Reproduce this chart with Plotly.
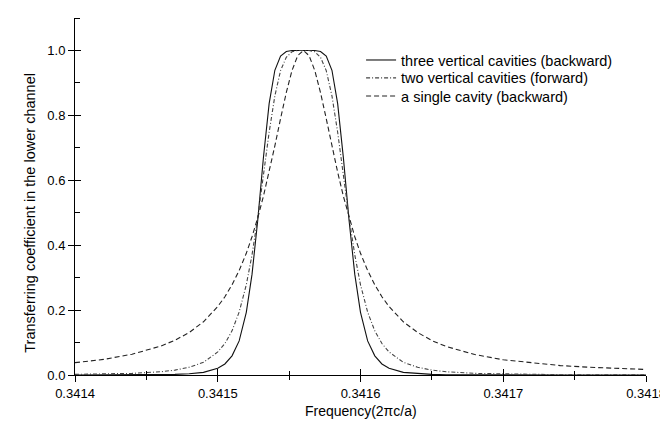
import plotly.graph_objects as go

# frequencies (units of 2*pi*c/a)
freq = [0.341400, 0.341420, 0.341440, 0.341460, 0.341470, 0.341480, 0.341490,
        0.341500, 0.341505, 0.341510, 0.341515, 0.341520, 0.341524, 0.341528,
        0.341532, 0.341536, 0.341540, 0.341544, 0.341548, 0.341552, 0.341556,
        0.341560, 0.341564, 0.341568, 0.341572, 0.341576, 0.341580, 0.341584,
        0.341588, 0.341592, 0.341596, 0.341600, 0.341605, 0.341610, 0.341615,
        0.341620, 0.341630, 0.341640, 0.341650, 0.341660, 0.341680, 0.341700,
        0.341720, 0.341740, 0.341760, 0.341780, 0.341800]

three_cav = [0.000, 0.000, 0.0003, 0.001, 0.002, 0.004, 0.008,
             0.021, 0.034, 0.059, 0.105, 0.193, 0.310, 0.476,
             0.670, 0.836, 0.939, 0.983, 0.997, 1.000, 1.000,
             1.000, 1.000, 1.000, 0.997, 0.983, 0.939, 0.836,
             0.670, 0.476, 0.310, 0.193, 0.105, 0.059, 0.034,
             0.021, 0.008, 0.004, 0.002, 0.001, 0.0003, 0.000,
             0.000, 0.000, 0.000, 0.000, 0.000]

two_cav = [0.002, 0.003, 0.005, 0.010, 0.015, 0.024, 0.039,
           0.071, 0.097, 0.136, 0.194, 0.278, 0.370, 0.484,
           0.616, 0.748, 0.860, 0.938, 0.979, 0.996, 1.000,
           1.000, 1.000, 0.996, 0.979, 0.938, 0.860, 0.748,
           0.616, 0.484, 0.370, 0.278, 0.194, 0.136, 0.097,
           0.071, 0.039, 0.024, 0.015, 0.010, 0.005, 0.003,
           0.002, 0.001, 0.001, 0.0005, 0.0003]

single_cav = [0.038, 0.048, 0.064, 0.089, 0.107, 0.131, 0.164,
              0.211, 0.241, 0.278, 0.322, 0.375, 0.426, 0.484,
              0.551, 0.625, 0.706, 0.790, 0.870, 0.938, 0.984,
              1.000, 0.984, 0.938, 0.870, 0.790, 0.706, 0.625,
              0.551, 0.484, 0.426, 0.375, 0.322, 0.278, 0.241,
              0.211, 0.164, 0.131, 0.106, 0.088, 0.063, 0.047,
              0.037, 0.029, 0.024, 0.020, 0.017]

names = ["three vertical cavities (backward)",
         "two vertical cavities (forward)",
         "a single cavity (backward)"]

FONT = "Liberation Sans, Arial, sans-serif"

fig = go.Figure()
fig.add_trace(go.Scatter(x=freq, y=three_cav, mode="lines", name=names[0],
                         legend="legend",
                         line=dict(color="#111111", width=1.1)))
fig.add_trace(go.Scatter(x=freq, y=two_cav, mode="lines", name=names[1],
                         legend="legend2",
                         line=dict(color="#444444", width=1.1, dash="4px,2px,1px,2px")))
fig.add_trace(go.Scatter(x=freq, y=single_cav, mode="lines", name=names[2],
                         legend="legend3",
                         line=dict(color="#222222", width=1.1, dash="5px,3px")))
# dummy trace so the overlay axes (inside tick halves) get drawn
fig.add_trace(go.Scatter(x=[], y=[], xaxis="x2", yaxis="y2", showlegend=False))

xr = [0.3414, 0.3418]
yr = [0, 1.1001]

# one legend per row so the rows sit as tight as in the original
leg = dict(x=0.501, xanchor="left", yanchor="top",
           bgcolor="rgba(0,0,0,0)", font=dict(size=14.5))

fig.update_layout(
    width=668, height=421,
    margin=dict(l=67, r=21, t=10, b=54),
    paper_bgcolor="white", plot_bgcolor="white",
    font=dict(family=FONT, size=13, color="black"),
    showlegend=True,
    legend=dict(leg, y=0.927),
    legend2=dict(leg, y=0.877),
    legend3=dict(leg, y=0.826),
    xaxis=dict(range=xr, tick0=0.3414, dtick=0.0001, tickformat=".4f",
               showgrid=False, zeroline=False, showline=True,
               linecolor="black", linewidth=1,
               ticks="outside", ticklen=6, tickwidth=1, tickcolor="black",
               minor=dict(dtick=0.00005, ticks="outside", ticklen=4,
                          tickcolor="black", showgrid=False),
               tickfont=dict(size=13)),
    yaxis=dict(range=yr, tick0=0, dtick=0.2, tickformat=".1f",
               showgrid=False, zeroline=False, showline=True,
               linecolor="black", linewidth=1,
               ticks="outside", ticklen=6, tickwidth=1, tickcolor="black",
               minor=dict(dtick=0.1, ticks="inside", ticklen=5,
                          tickcolor="black", showgrid=False),
               tickfont=dict(size=13)),
    xaxis2=dict(range=xr, overlaying="x", anchor="y", side="bottom",
                tick0=0.3414, dtick=0.0001, showticklabels=False,
                showgrid=False, zeroline=False, showline=False,
                ticks="inside", ticklen=6, tickwidth=1, tickcolor="black",
                minor=dict(dtick=0.00005, ticks="inside", ticklen=4,
                           tickcolor="black", showgrid=False)),
    yaxis2=dict(range=yr, overlaying="y", anchor="x", side="left",
                tick0=0, dtick=0.2, showticklabels=False,
                showgrid=False, zeroline=False, showline=False,
                ticks="inside", ticklen=6, tickwidth=1, tickcolor="black"),
)

fig.add_annotation(text="Transferring coefficient in the lower channel",
                   xref="paper", yref="y", x=0, y=0.5, xshift=-45,
                   textangle=-90, showarrow=False,
                   xanchor="center", yanchor="middle",
                   font=dict(size=14.5))
fig.add_annotation(text="Frequency(2\u03c0c/a)",
                   xref="paper", yref="paper", x=0.5, y=-0.10,
                   showarrow=False, xanchor="center", yanchor="middle",
                   font=dict(size=14))

fig.write_html("out.html")
